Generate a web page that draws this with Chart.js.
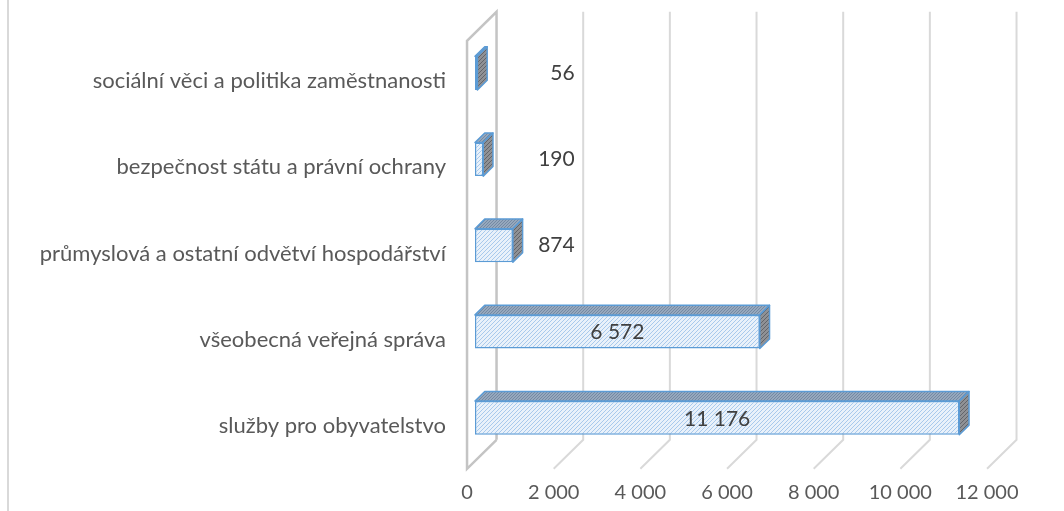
<!DOCTYPE html>
<html lang="cs">
<head>
<meta charset="UTF-8">
<title>Výdaje podle odvětví</title>
<script src="https://cdn.jsdelivr.net/npm/chart.js"></script>
<style>
  html, body { margin: 0; padding: 0; background: #fff; }
  #wrap { position: relative; width: 1064px; height: 511px; }
</style>
</head>
<body>
<div id="wrap"><canvas id="chart"></canvas></div>
<script>
const categories = [
  'sociální věci a politika zaměstnanosti',
  'bezpečnost státu a právní ochrany',
  'průmyslová a ostatní odvětví hospodářství',
  'všeobecná veřejná správa',
  'služby pro obyvatelstvo'
];
const values = [56, 190, 874, 6572, 11176];
const xTicks = [0, 2000, 4000, 6000, 8000, 10000, 12000];

// fake 3D: depth 0 = floor front edge, 1 = back wall; chart scale plane sits at 0.27
const DX = 29.5, DY = 29, PLANE = 0.27, BAR_BACK = 0.6;
function atDepth(x, y, t) {
  return [x + (t - PLANE) * DX, y - (t - PLANE) * DY];
}

function fmt(v) {
  return String(v).replace(/\B(?=(\d{3})+(?!\d))/g, ' ');
}

function makePattern(bg, fg, size) {
  const c = document.createElement('canvas');
  c.width = size; c.height = size;
  const g = c.getContext('2d');
  g.fillStyle = bg;
  g.fillRect(0, 0, size, size);
  g.fillStyle = fg;
  for (let i = 0; i < size; i++) g.fillRect(i, size - 1 - i, 1, 1);
  return g.createPattern(c, 'repeat');
}

const ctx = document.getElementById('chart').getContext('2d');
const frontFill = makePattern('#e9f1fa', '#a8c9ec', 4);
const topFill = makePattern('#96a8bd', '#7489a3', 3);
const sideFill = makePattern('#8f9195', '#62646a', 4);

const box3d = {
  id: 'box3d',
  beforeDatasetsDraw(chart) {
    const { ctx, chartArea: a, scales: { x } } = chart;
    ctx.save();

    // outer frame line on the left
    ctx.strokeStyle = '#d9d9d9';
    ctx.lineWidth = 2;
    ctx.beginPath();
    ctx.moveTo(8, 0);
    ctx.lineTo(8, 511);
    ctx.stroke();

    const yTop = a.top + 3, yBot = a.bottom;
    // back wall gridlines + floor lines
    xTicks.forEach(v => {
      if (v === 0) return;
      const px = x.getPixelForValue(v);
      const b1 = atDepth(px, yTop, 1), b2 = atDepth(px, yBot, 1), f = atDepth(px, yBot, 0);
      ctx.strokeStyle = '#d9d9d9';
      ctx.lineWidth = 2;
      ctx.beginPath();
      ctx.moveTo(b1[0], b1[1]);
      ctx.lineTo(b2[0], b2[1]);
      ctx.lineTo(f[0], f[1]);
      ctx.stroke();
    });

    // left wall outline
    const p0 = x.getPixelForValue(0);
    const fb = atDepth(p0, yBot, 0), ft = atDepth(p0, yTop, 0);
    const bt = atDepth(p0, yTop, 1), bb = atDepth(p0, yBot, 1);
    ctx.strokeStyle = '#c4c4c4';
    ctx.lineWidth = 2.5;
    ctx.beginPath();
    ctx.moveTo(bb[0], bb[1]);
    ctx.lineTo(fb[0], fb[1]);
    ctx.lineTo(ft[0], ft[1]);
    ctx.lineTo(bt[0], bt[1]);
    ctx.lineTo(bb[0], bb[1]);
    ctx.stroke();

    // top and side faces of the bars
    const dx = (BAR_BACK - PLANE) * DX, dy = -(BAR_BACK - PLANE) * DY;
    chart.getDatasetMeta(0).data.forEach(bar => {
      const p = bar.getProps(['x', 'y', 'base', 'height'], true);
      const t = p.y - p.height / 2, b = p.y + p.height / 2;
      const l = p.base, r = p.x;
      ctx.lineWidth = 1.5;
      ctx.strokeStyle = '#5b9bd5';
      ctx.lineJoin = 'round';

      ctx.beginPath();
      ctx.moveTo(l, t);
      ctx.lineTo(r, t);
      ctx.lineTo(r + dx, t + dy);
      ctx.lineTo(l + dx, t + dy);
      ctx.closePath();
      ctx.fillStyle = topFill;
      ctx.fill();
      ctx.stroke();

      ctx.beginPath();
      ctx.moveTo(r, t);
      ctx.lineTo(r + dx, t + dy);
      ctx.lineTo(r + dx, b + dy);
      ctx.lineTo(r, b);
      ctx.closePath();
      ctx.fillStyle = sideFill;
      ctx.fill();
      ctx.stroke();
    });
    ctx.restore();
  },
  afterDatasetsDraw(chart) {
    const { ctx, scales: { x } } = chart;
    ctx.save();
    ctx.font = '21px Lato';
    ctx.fillStyle = '#404040';
    ctx.textBaseline = 'middle';
    chart.getDatasetMeta(0).data.forEach((bar, i) => {
      const p = bar.getProps(['x', 'y', 'base'], true);
      const txt = fmt(values[i]);
      const w = ctx.measureText(txt).width;
      if (w + 20 < p.x - p.base) {
        ctx.textAlign = 'center';
        ctx.fillText(txt, (p.x + p.base) / 2, p.y + 1);
      } else {
        ctx.textAlign = 'right';
        ctx.fillText(txt, x.getPixelForValue(2300), p.y);
      }
    });
    ctx.restore();
  }
};

new Chart(ctx, {
  type: 'bar',
  data: {
    labels: categories,
    datasets: [{
      data: values,
      backgroundColor: frontFill,
      borderColor: '#5b9bd5',
      borderWidth: 1.5,
      borderSkipped: false,
      barPercentage: 0.39,
      categoryPercentage: 1
    }]
  },
  options: {
    indexAxis: 'y',
    responsive: true,
    maintainAspectRatio: false,
    animation: false,
    layout: { padding: { top: 30, right: 69, bottom: 0, left: 0 } },
    plugins: {
      legend: { display: false },
      tooltip: { enabled: false }
    },
    scales: {
      x: {
        min: 0,
        max: 12000,
        afterBuildTicks: s => { s.ticks = xTicks.map(v => ({ value: v })); },
        afterFit: s => { s.height = 50; s.paddingLeft = 0; s.paddingRight = 0; },
        grid: { display: false, drawTicks: false },
        border: { display: false },
        ticks: {
          font: { family: 'Lato', size: 20 },
          color: '#595959',
          padding: 20,
          labelOffset: -8,
          maxRotation: 0,
          autoSkip: false,
          callback: v => fmt(v)
        }
      },
      y: {
        afterFit: s => { s.width = 475; s.paddingTop = 0; s.paddingBottom = 0; },
        grid: { display: false, drawTicks: false },
        border: { display: false },
        ticks: {
          font: { family: 'Lato', size: 22 },
          color: '#595959',
          padding: 29,
          labelOffset: 8
        }
      }
    }
  },
  plugins: [box3d]
});
</script>
</body>
</html>
